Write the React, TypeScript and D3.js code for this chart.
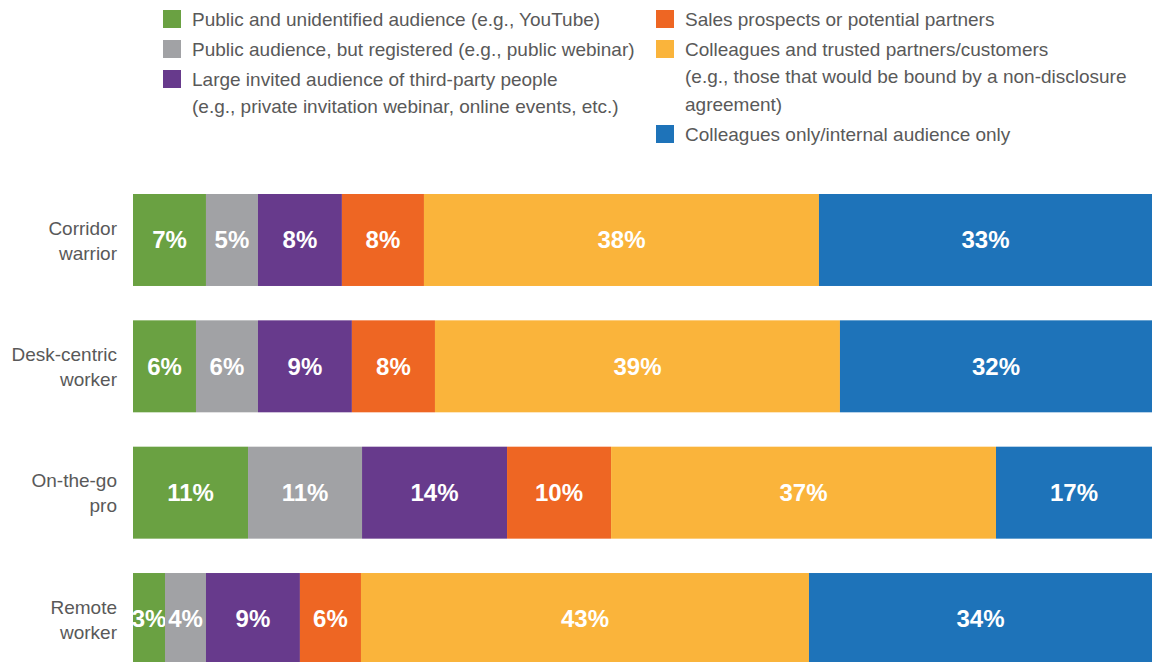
import { useMemo } from "react";
import { scaleLinear, scaleBand, stack } from "d3";

const WIDTH = 1152;
const HEIGHT = 662;

const categories = ["Corridor warrior", "Desk-centric worker", "On-the-go pro", "Remote worker"];
const categoryLines = [["Corridor", "warrior"], ["Desk-centric", "worker"], ["On-the-go", "pro"], ["Remote", "worker"]];

const seriesKeys = ["public", "registered", "invited", "sales", "trusted", "internal"];
const colors = ["#6aa142", "#a1a2a5", "#673a8c", "#ee6623", "#fab43b", "#1e73b9"];

// bar widths (share of row)
const publicVals = [7.16, 6.18, 11.29, 3.14];
const registeredVals = [5.1, 6.08, 11.19, 4.02];
const invitedVals = [8.24, 9.22, 14.23, 9.22];
const salesVals = [8.05, 8.15, 10.21, 5.99];
const trustedVals = [38.76, 39.74, 37.78, 43.96];
const internalVals = [32.68, 30.62, 15.31, 33.66];

// printed labels
const publicLbl = [7, 6, 11, 3];
const registeredLbl = [5, 6, 11, 4];
const invitedLbl = [8, 9, 14, 9];
const salesLbl = [8, 8, 10, 6];
const trustedLbl = [38, 39, 37, 43];
const internalLbl = [33, 32, 17, 34];

const labelSets = [publicLbl, registeredLbl, invitedLbl, salesLbl, trustedLbl, internalLbl];

const legendLeft = [
  ["Public and unidentified audience (e.g., YouTube)"],
  ["Public audience, but registered (e.g., public webinar)"],
  ["Large invited audience of third-party people", "(e.g., private invitation webinar, online events, etc.)"],
];
const legendRight = [
  ["Sales prospects or potential partners"],
  ["Colleagues and trusted partners/customers", "(e.g., those that would be bound by a non-disclosure", "agreement)"],
  ["Colleagues only/internal audience only"],
];

const FONT = "'Liberation Sans', Arimo, Arial, Helvetica, sans-serif";
const TEXT = "#595959";

export default function App() {
  const rows = useMemo(
    () =>
      categories.map((c, i) => ({
        category: c,
        public: publicVals[i],
        registered: registeredVals[i],
        invited: invitedVals[i],
        sales: salesVals[i],
        trusted: trustedVals[i],
        internal: internalVals[i],
      })),
    []
  );

  const layers = stack<any>().keys(seriesKeys)(rows);

  const y = scaleBand<string>().domain(categories).range([194, 665]).paddingInner(0.272).paddingOuter(0);

  const xFor = (i: number) => {
    const total = seriesKeys.reduce((s, k) => s + (rows[i] as any)[k], 0);
    return scaleLinear().domain([0, total]).range([133, WIDTH]);
  };

  const legendItem = (lines: string[], color: string, x: number, y0: number, key: string) => (
    <g key={key}>
      <rect x={x} y={y0 - 9} width={18} height={18} fill={color} />
      {lines.map((l, j) => (
        <text key={j} x={x + 29} y={y0 + (j === 0 ? 0 : 28 * j - 1)} dy="0.35em" fontSize={19} fill={TEXT} fontFamily={FONT}>
          {l}
        </text>
      ))}
    </g>
  );

  let ly = 19;
  const leftItems = legendLeft.map((lines, i) => {
    const el = legendItem(lines, colors[i], 163, ly, "l" + i);
    ly += 30 + (lines.length - 1) * 27;
    return el;
  });
  let ry = 19;
  const rightItems = legendRight.map((lines, i) => {
    const el = legendItem(lines, colors[i + 3], 656, ry, "r" + i);
    ry += 30 + (lines.length - 1) * 28 - (i === 1 ? 1 : 0);
    return el;
  });

  return (
    <svg
      width={WIDTH}
      height={HEIGHT}
      viewBox={`0 0 ${WIDTH} ${HEIGHT}`}
      style={{ position: "absolute", left: 0, top: 0, background: "#fff" }}
      role="img"
      aria-label="Audience by worker type, stacked bar chart"
    >
      {leftItems}
      {rightItems}

      {categories.map((c, i) => {
        const cy = (y(c) ?? 0) + y.bandwidth() / 2;
        return (
          <text key={c} x={117} textAnchor="end" fontSize={19} fill={TEXT} fontFamily={FONT}>
            {categoryLines[i].map((l, j) => (
              <tspan key={j} x={117} y={cy - 12 + j * 25} dy="0.35em">
                {l}
              </tspan>
            ))}
          </text>
        );
      })}

      {layers.map((layer, si) => (
        <g key={layer.key} fill={colors[si]}>
          {layer.map((d, i) => {
            const x = xFor(i);
            const yy = y(categories[i]) ?? 0;
            const x0 = x(d[0]);
            const x1 = x(d[1]);
            return (
              <g key={i}>
                <rect x={x0} y={yy} width={x1 - x0} height={y.bandwidth()} />
                <text
                  x={(x0 + x1) / 2}
                  y={yy + y.bandwidth() / 2}
                  dy="0.35em"
                  textAnchor="middle"
                  fontSize={24}
                  fontWeight="bold"
                  fill="#fff"
                  fontFamily={FONT}
                >
                  {labelSets[si][i]}%
                </text>
              </g>
            );
          })}
        </g>
      ))}
    </svg>
  );
}
